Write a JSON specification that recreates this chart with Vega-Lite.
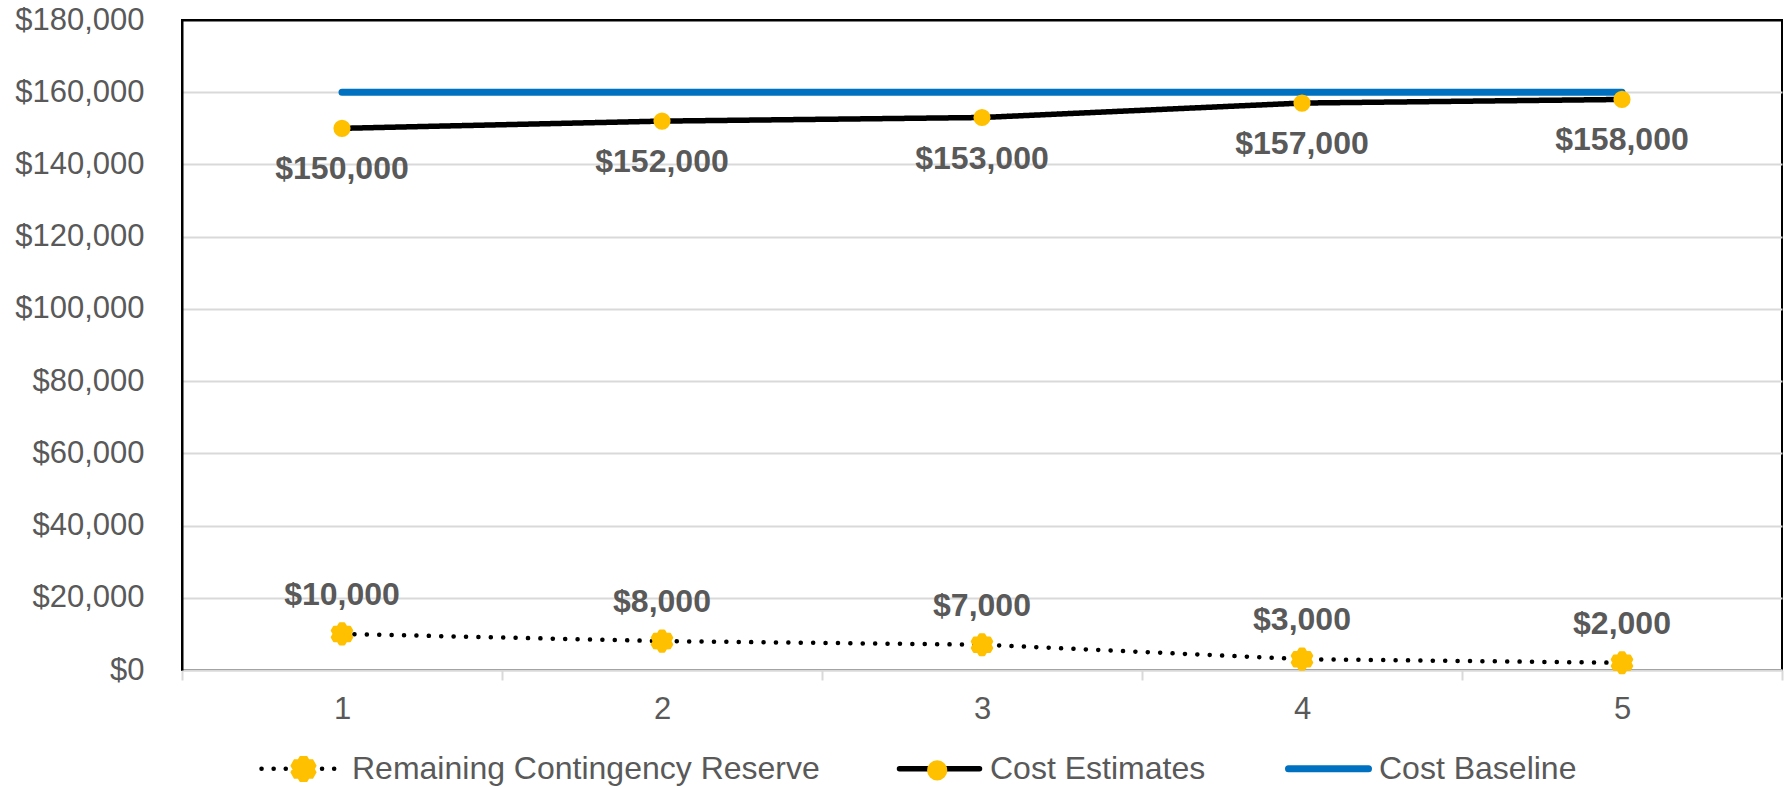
{
  "$schema": "https://vega.github.io/schema/vega-lite/v6.json",
  "width": 1600,
  "height": 650,
  "autosize": {"type": "none"},
  "padding": {"left": 182, "top": 20, "right": 6, "bottom": 117},
  "background": "#ffffff",
  "config": {
    "view": {"stroke": "#000000", "strokeWidth": 2},
    "font": "Liberation Sans",
    "legend": {
      "orient": "none",
      "direction": "horizontal",
      "columns": 3,
      "title": null,
      "symbolStrokeWidth": 5,
      "labelFontSize": 32,
      "labelFont": "Liberation Sans",
      "labelColor": "#595959",
      "labelOffset": 8,
      "columnPadding": 68,
      "padding": 0,
      "labelLimit": 1000
    }
  },
  "data": {
    "values": [
      {"series": "Remaining Contingency Reserve", "period": 1, "value": 10000},
      {"series": "Remaining Contingency Reserve", "period": 2, "value": 8000},
      {"series": "Remaining Contingency Reserve", "period": 3, "value": 7000},
      {"series": "Remaining Contingency Reserve", "period": 4, "value": 3000},
      {"series": "Remaining Contingency Reserve", "period": 5, "value": 2000},
      {"series": "Cost Estimates", "period": 1, "value": 150000},
      {"series": "Cost Estimates", "period": 2, "value": 152000},
      {"series": "Cost Estimates", "period": 3, "value": 153000},
      {"series": "Cost Estimates", "period": 4, "value": 157000},
      {"series": "Cost Estimates", "period": 5, "value": 158000},
      {"series": "Cost Baseline", "period": 1, "value": 160000},
      {"series": "Cost Baseline", "period": 2, "value": 160000},
      {"series": "Cost Baseline", "period": 3, "value": 160000},
      {"series": "Cost Baseline", "period": 4, "value": 160000},
      {"series": "Cost Baseline", "period": 5, "value": 160000}
    ]
  },
  "encoding": {
    "x": {
      "field": "period",
      "type": "ordinal",
      "scale": {"type": "band", "paddingInner": 0, "paddingOuter": 0},
      "axis": {
        "title": null,
        "labelAngle": 0,
        "labelFontSize": 31,
        "labelColor": "#595959",
        "labelPadding": 14,
        "tickBand": "extent",
        "tickColor": "#D9D9D9",
        "tickWidth": 2,
        "tickSize": 10,
        "domainColor": "#D9D9D9",
        "domainWidth": 2,
        "grid": false
      }
    },
    "y": {
      "field": "value",
      "type": "quantitative",
      "scale": {"domain": [0, 180000], "nice": false},
      "axis": {
        "title": null,
        "values": [0, 20000, 40000, 60000, 80000, 100000, 120000, 140000, 160000, 180000],
        "format": "$,.0f",
        "labelFontSize": 31,
        "labelColor": "#595959",
        "labelPadding": 38,
        "ticks": false,
        "domainColor": "#000000",
        "domainWidth": 2,
        "grid": true,
        "gridColor": {"condition": {"test": "datum.value === 180000", "value": "#000000"}, "value": "#D9D9D9"},
        "gridWidth": 2
      }
    }
  },
  "layer": [
    {
      "mark": {"type": "line", "strokeCap": "round", "strokeJoin": "round"},
      "encoding": {
        "color": {
          "field": "series",
          "type": "nominal",
          "sort": "descending",
          "scale": {"range": ["#000000", "#000000", "#0070C0"]},
          "legend": {
            "orient": "none",
            "legendX": 77,
            "legendY": 706,
            "symbolType": "M-1,0L1,0",
            "symbolSize": 6400,
            "encode": {
              "symbols": {
                "update": {
                  "strokeWidth": {"signal": "(datum.value === 'Cost Baseline' ? 7 : (datum.value === 'Cost Estimates' ? 5.5 : 4.5))"},
                  "strokeDash": {"signal": "(datum.value === 'Remaining Contingency Reserve' ? [0.1, 12] : [1, 0])"},
                  "strokeCap": {"value": "round"},
                  "opacity": {"value": 1}
                }
              }
            }
          }
        },
        "strokeDash": {
          "field": "series",
          "type": "nominal",
          "scale": {"domain": ["Remaining Contingency Reserve", "Cost Estimates", "Cost Baseline"], "range": [[0.1, 12.3], [1, 0], [1, 0]]},
          "legend": null
        },
        "strokeWidth": {
          "field": "series",
          "type": "ordinal",
          "scale": {"type": "ordinal", "domain": ["Remaining Contingency Reserve", "Cost Estimates", "Cost Baseline"], "range": [4.5, 5.5, 7]},
          "legend": null
        }
      }
    },
    {
      "transform": [{"filter": "datum.series !== 'Cost Baseline'"}],
      "mark": {"type": "point", "filled": true, "opacity": 1, "color": "#FFC000", "stroke": "#FFC000", "strokeWidth": 2, "strokeJoin": "round", "size": 6400},
      "encoding": {
        "shape": {
          "field": "series",
          "type": "nominal",
          "sort": "descending",
          "scale": {
            "range": ["M-0.105,-0.182L-0.056,-0.264L0.056,-0.264L0.105,-0.182L0.201,-0.181L0.257,-0.083L0.211,0L0.257,0.083L0.201,0.181L0.105,0.182L0.056,0.264L-0.056,0.264L-0.105,0.182L-0.201,0.181L-0.257,0.083L-0.211,0L-0.257,-0.083L-0.201,-0.181Z", "M0.19,0A0.19,0.19,0,1,1,-0.19,0A0.19,0.19,0,1,1,0.19,0Z"]
          },
          "legend": {
            "orient": "none",
            "legendX": 77,
            "legendY": 706,
            "symbolSize": 6400,
            "symbolOffset": 2,
            "labelOffset": 11,
            "labelExpr": "''",
            "labelOpacity": 0,
            "columnPadding": 535.7,
            "encode": {
              "symbols": {
                "update": {
                  "fill": {"value": "#FFC000"},
                  "stroke": {"value": "#FFC000"},
                  "strokeWidth": {"value": 2},
                  "strokeJoin": {"value": "round"},
                  "opacity": {"value": 1}
                }
              }
            }
          }
        }
      }
    },
    {
      "transform": [{"filter": "datum.series === 'Cost Estimates'"}],
      "mark": {"type": "text", "dy": 41, "fontSize": 32, "fontWeight": "bold", "font": "Liberation Sans", "color": "#595959"},
      "encoding": {"text": {"field": "value", "type": "quantitative", "format": "$,.0f"}}
    },
    {
      "transform": [{"filter": "datum.series === 'Remaining Contingency Reserve'"}],
      "mark": {"type": "text", "dy": -39, "fontSize": 32, "fontWeight": "bold", "font": "Liberation Sans", "color": "#595959"},
      "encoding": {"text": {"field": "value", "type": "quantitative", "format": "$,.0f"}}
    }
  ]
}
